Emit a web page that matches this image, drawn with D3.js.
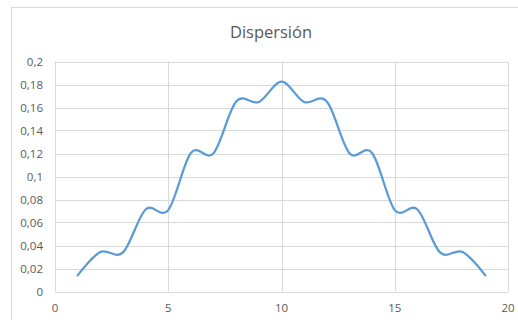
<!DOCTYPE html>
<html><head><meta charset="utf-8">
<script src="https://cdn.jsdelivr.net/npm/d3@7"></script>
<style>body{margin:0;background:#fff}svg{display:block}</style>
</head><body>
<svg id="c" width="518" height="320"></svg>
<script>
const title = "Dispersión";
const xValues = [1,2,3,4,5,6,7,8,9,10,11,12,13,14,15,16,17,18,19];
const yValues = [0.014,0.0343,0.034,0.0713,0.0708,0.1205,0.1203,0.1652,0.1648,0.1824,0.1648,0.1652,0.1203,0.1205,0.0708,0.0713,0.034,0.0343,0.014];
const xTicks = [0,5,10,15,20];
const yTicks = [0,0.02,0.04,0.06,0.08,0.1,0.12,0.14,0.16,0.18,0.2];

const svg = d3.select("#c");
const font = "'Open Sans', sans-serif";
const L=55, R=508, T=61.5, B=291.5;
const x = d3.scaleLinear().domain([0,20]).range([L,R]);
const y = d3.scaleLinear().domain([0,0.2]).range([B,T]);
const fmt = v => String(+v.toFixed(2)).replace(".", ",");

// chart border
svg.append("rect").attr("x",11.5).attr("y",7.5).attr("width",530).attr("height",330)
  .attr("fill","#fff").attr("stroke","#d9d9d9");

// gridlines
svg.append("g").selectAll("line").data(yTicks).join("line")
  .attr("x1",L).attr("x2",R).attr("y1",d=>Math.round(y(d))+0.5).attr("y2",d=>Math.round(y(d))+0.5)
  .attr("stroke","#d9d9d9").attr("stroke-width",1);
svg.append("g").selectAll("line").data(xTicks).join("line")
  .attr("y1",T).attr("y2",B).attr("x1",d=>Math.round(x(d))+0.5).attr("x2",d=>Math.round(x(d))+0.5)
  .attr("stroke","#d9d9d9").attr("stroke-width",1);

// axis labels
svg.append("g").selectAll("text").data(yTicks).join("text")
  .attr("x",43).attr("y",d=>y(d)).attr("dy","0.35em").attr("text-anchor","end")
  .attr("font-family",font).attr("font-size","11.5px").attr("fill","#595959").text(fmt);
svg.append("g").selectAll("text").data(xTicks).join("text")
  .attr("x",d=>x(d)).attr("y",308).attr("dy","0.35em").attr("text-anchor","middle")
  .attr("font-family",font).attr("font-size","11.5px").attr("fill","#595959").text(d=>d);

// title
svg.append("text").attr("x",271).attr("y",32).attr("dy","0.35em").attr("text-anchor","middle")
  .attr("font-family",font).attr("font-size","16.5px").attr("fill","#595959").text(title);

// line
const pts = xValues.map((v,i)=>[v,yValues[i]]);
const line = d3.line().x(d=>x(d[0])).y(d=>y(d[1])).curve(d3.curveCardinal.tension(0));
svg.append("path").datum(pts).attr("d",line).attr("fill","none")
  .attr("stroke","#5b9bd5").attr("stroke-width",2.25).attr("stroke-linecap","round").attr("stroke-linejoin","round");
</script>
</body></html>
